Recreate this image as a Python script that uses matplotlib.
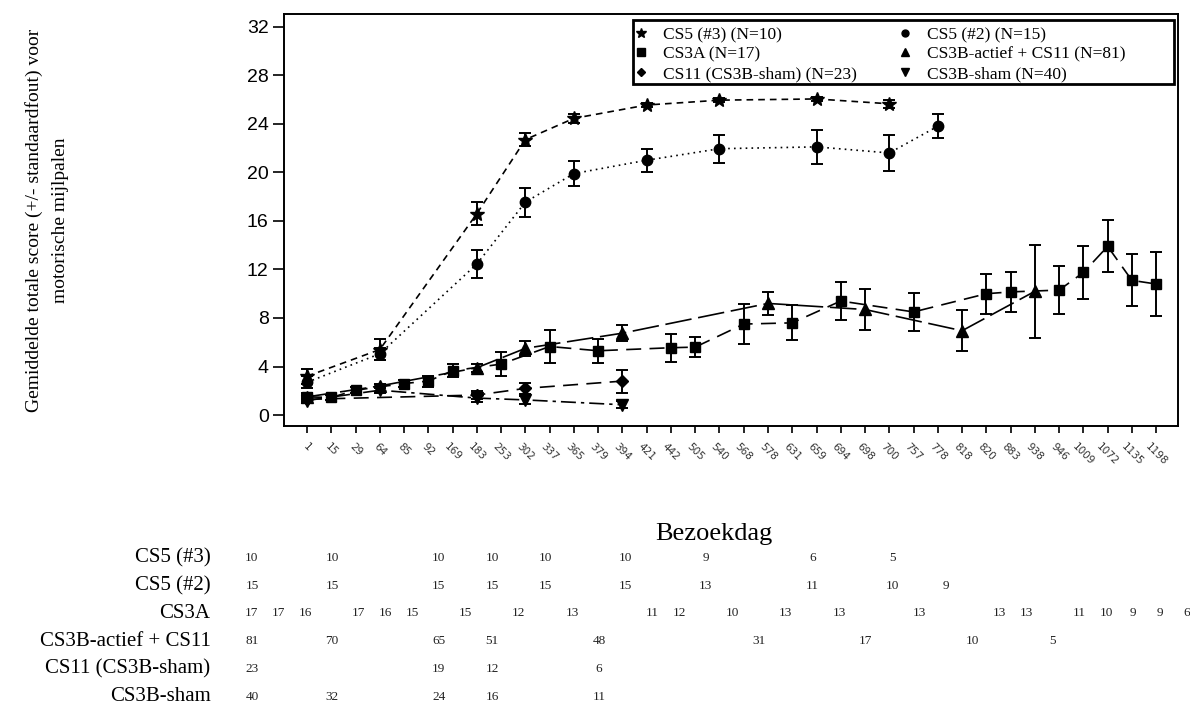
import matplotlib
matplotlib.use('Agg')
import matplotlib.pyplot as plt
from matplotlib.lines import Line2D
from matplotlib.patches import Rectangle

visit_days = [1, 15, 29, 64, 85, 92, 169, 183, 253, 302, 337, 365, 379, 394, 421, 442, 505, 540,
              568, 578, 631, 659, 694, 698, 700, 757, 778, 818, 820, 883, 938, 946, 1009, 1072, 1135, 1198]

# CS5 (#3)
cs5_3_days = [1, 64, 183, 302, 365, 421, 540, 659, 700]
cs5_3_mean = [3.2, 5.4, 16.6, 22.7, 24.45, 25.55, 25.95, 26.05, 25.65]
cs5_3_se = [0.6, 0.85, 0.95, 0.55, 0.4, 0.15, 0.15, 0.15, 0.35]
cs5_3_n = [10, 10, 10, 10, 10, 10, 9, 6, 5]

# CS5 (#2)
cs5_2_days = [1, 64, 183, 302, 365, 421, 540, 659, 700, 778]
cs5_2_mean = [2.7, 5.05, 12.45, 17.55, 19.9, 21.0, 21.95, 22.1, 21.6, 23.8]
cs5_2_se = [0.5, 0.5, 1.15, 1.2, 1.0, 0.95, 1.15, 1.4, 1.5, 1.0]
cs5_2_n = [15, 15, 15, 15, 15, 15, 13, 11, 10, 9]

# CS3A
cs3a_days = [1, 15, 29, 85, 92, 169, 253, 337, 379, 442, 505, 568, 631, 694, 757, 820, 883, 946,
             1009, 1072, 1135, 1198]
cs3a_mean = [1.5, 1.45, 2.05, 2.6, 2.8, 3.65, 4.2, 5.65, 5.3, 5.55, 5.6, 7.5, 7.6, 9.4, 8.5, 10.0,
             10.15, 10.3, 11.75, 13.9, 11.1, 10.8]
cs3a_se = [0.3, 0.2, 0.25, 0.3, 0.45, 0.55, 1.0, 1.35, 1.0, 1.15, 0.85, 1.65, 1.45, 1.6, 1.6, 1.65,
           1.65, 1.95, 2.2, 2.15, 2.15, 2.65]
cs3a_n = [17, 17, 16, 17, 16, 15, 15, 12, 13, 11, 12, 10, 13, 13, 13, 13, 13, 11, 10, 9, 9, 6]

# CS3B-actief + CS11
act_days = [1, 64, 183, 302, 394, 578, 698, 818, 938]
act_mean = [1.5, 2.4, 3.9, 5.5, 6.75, 9.2, 8.7, 6.95, 10.2]
act_se = [0.2, 0.2, 0.35, 0.6, 0.68, 0.95, 1.68, 1.68, 3.85]
act_n = [81, 70, 65, 51, 48, 31, 17, 10, 5]

# CS11 (CS3B-sham)
cs11_days = [1, 183, 302, 394]
cs11_mean = [1.3, 1.65, 2.2, 2.8]
cs11_se = [0.25, 0.3, 0.45, 0.95]
cs11_n = [23, 19, 12, 6]

# CS3B-sham
sham_days = [1, 64, 183, 302, 394]
sham_mean = [1.2, 2.05, 1.4, 1.25, 0.85]
sham_se = [0.2, 0.25, 0.3, 0.35, 0.3]
sham_n = [40, 32, 24, 16, 11]

series = [
    ('CS5 (#3)', 'CS5 (#3) (N=10)', cs5_3_days, cs5_3_mean, cs5_3_se, cs5_3_n, '*', 10.5, (0, (4, 3))),
    ('CS5 (#2)', 'CS5 (#2) (N=15)', cs5_2_days, cs5_2_mean, cs5_2_se, cs5_2_n, 'o', 7.5, (0, (1, 2.5))),
    ('CS3A', 'CS3A (N=17)', cs3a_days, cs3a_mean, cs3a_se, cs3a_n, 's', 7.5, (0, (9, 5))),
    ('CS3B-actief + CS11', 'CS3B-actief + CS11 (N=81)', act_days, act_mean, act_se, act_n, '^', 8, (0, (16, 4))),
    ('CS11 (CS3B-sham)', 'CS11 (CS3B-sham) (N=23)', cs11_days, cs11_mean, cs11_se, cs11_n, 'D', 6, (0, (9, 5))),
    ('CS3B-sham', 'CS3B-sham (N=40)', sham_days, sham_mean, sham_se, sham_n, 'v', 8, (0, (9, 3, 2, 3))),
]

serif = ['Liberation Serif', 'DejaVu Serif']

fig = plt.figure(figsize=(11.9, 7.06), dpi=100)
W, H = 1190, 706
ax = fig.add_axes([284 / W, 1 - 426 / H, 894 / W, 412 / H])

for name, lab, days, mean, se, n, mk, ms, ls in series:
    xs = [visit_days.index(d) for d in days]
    ax.errorbar(xs, mean, yerr=se, color='black', marker=mk, markersize=ms, linestyle=ls,
                linewidth=1.2, elinewidth=1.4, capsize=4.5, capthick=1.4)

ax.set_xlim(-0.95, 35.9)
ax.set_ylim(-0.9, 33.05)
ax.set_yticks(range(0, 33, 4))
ax.set_xticks(range(len(visit_days)))
ax.set_xticklabels([str(d) for d in visit_days], rotation=-45, ha='center', va='top',
                   fontsize=7.5, color='#333333')
for t in ax.get_yticklabels():
    t.set_fontfamily('Liberation Sans')
    t.set_fontsize(14)
ax.tick_params(axis='y', length=8, width=1.2, pad=3)
ax.tick_params(axis='x', length=5, width=1.2, pad=6)
for s in ax.spines.values():
    s.set_linewidth(1.4)

ax.set_ylabel('Gemiddelde totale score (+/- standaardfout) voor\nmotorische mijlpalen',
              fontfamily=serif, fontsize=14, linespacing=1.7)
ax.yaxis.set_label_coords(-0.24, 0.5)

# legend: frame drawn separately so the columns sit where they do in the original
ax.add_patch(Rectangle((0.3904, 0.8301), 0.6051, 0.1553, transform=ax.transAxes,
                       facecolor='white', edgecolor='black', linewidth=2, zorder=4))
handles = [Line2D([], [], color='black', marker=s[6], markersize=s[7] * 0.75 if s[6] != 'o' else 5,
                  linestyle='none') for s in series]
labels = [s[1] for s in series]
order = [0, 2, 4, 1, 3, 5]
leg = ax.legend([handles[i] for i in order], [labels[i] for i in order], ncol=2,
                loc='upper left', bbox_to_anchor=(0.3915, 0.969), borderaxespad=0,
                frameon=False, prop={'family': serif, 'size': 12.5}, handlelength=0.8,
                handletextpad=0.85, labelspacing=0.2, borderpad=0, columnspacing=2.4)
leg.set_zorder(5)

# table of N per visit
ax2 = fig.add_axes([238.6 / W, -0.0062, 961 / W, 0.2354])
ax2.set_xlim(-0.5, len(visit_days) - 0.5)
ax2.set_ylim(len(series) - 0.5, -0.5)
ax2.axis('off')
for row, (name, lab, days, mean, se, n, mk, ms, ls) in enumerate(series):
    ax2.text(-1.55, row, name, ha='right', va='center', fontfamily=serif, fontsize=15)
    for d, v in zip(days, n):
        ax2.text(visit_days.index(d), row, str(v), ha='center', va='center',
                 fontfamily=serif, fontsize=9.5, color='#222222')
ax2.text(17.3, -0.87, 'Bezoekdag', ha='center', va='center', fontfamily=serif, fontsize=19)

fig.savefig('out.png', dpi=100)
